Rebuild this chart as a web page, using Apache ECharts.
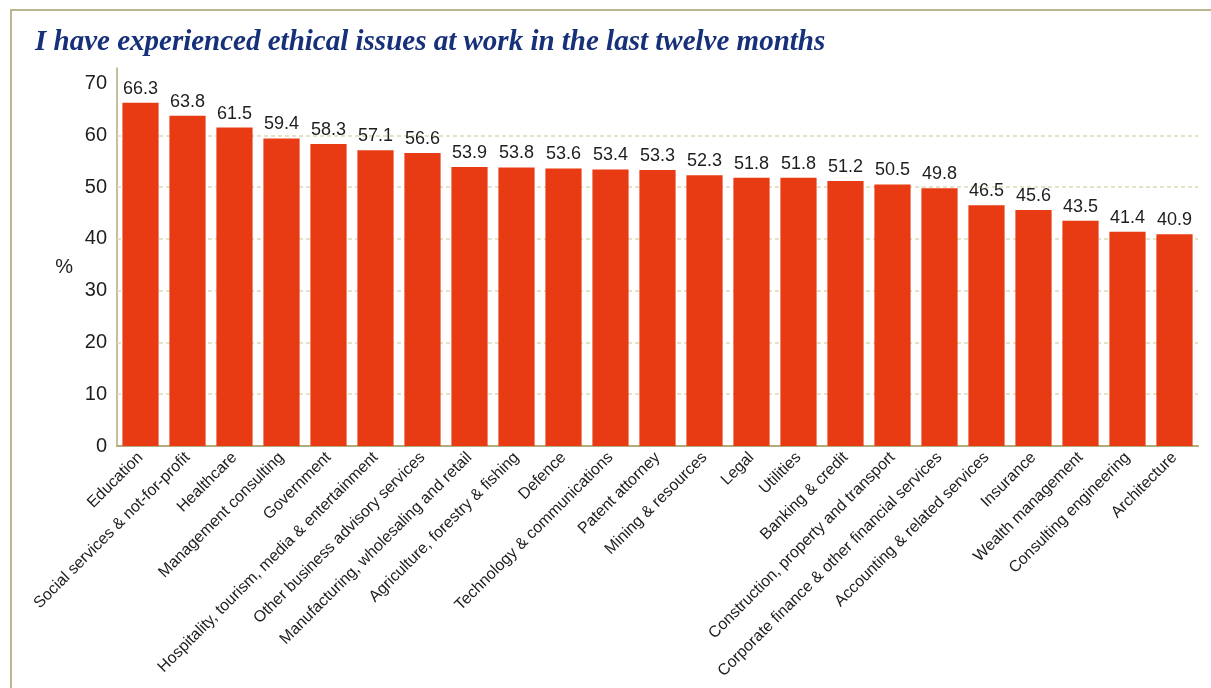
<!DOCTYPE html>
<html>
<head>
<meta charset="utf-8">
<script src="https://cdn.jsdelivr.net/npm/echarts@6/dist/echarts.min.js"></script>
<style>
  html, body { margin: 0; padding: 0; background: #fff; }
  #frame {
    position: absolute; left: 10px; top: 9px; right: 0; bottom: 0;
    border-top: 2px solid #bdb591; border-left: 2px solid #bdb591;
  }
  #chart { position: absolute; left: 0; top: 0; width: 1211px; height: 688px; }
</style>
</head>
<body>
<div id="frame"></div>
<div id="chart"></div>
<script>
  // categories and percentages
  const sectors = [
    "Education", "Social services & not-for-profit", "Healthcare", "Management consulting",
    "Government", "Hospitality, tourism, media & entertainment", "Other business advisory services",
    "Manufacturing, wholesaling and retail", "Agriculture, forestry & fishing", "Defence",
    "Technology & communications", "Patent attorney", "Mining & resources", "Legal", "Utilities",
    "Banking & credit", "Construction, property and transport",
    "Corporate finance & other financial services", "Accounting & related services",
    "Insurance", "Wealth management", "Consulting engineering", "Architecture"
  ];
  const percents = [
    66.3, 63.8, 61.5, 59.4, 58.3, 57.1, 56.6, 53.9, 53.8, 53.6, 53.4, 53.3,
    52.3, 51.8, 51.8, 51.2, 50.5, 49.8, 46.5, 45.6, 43.5, 41.4, 40.9
  ];
  const yTicks = [0, 10, 20, 30, 40, 50, 60, 70];
  // dashed guide lines (none at 0 or 70 in the original)
  const gridValues = [10, 20, 30, 40, 50, 60];

  let myChart = echarts.init(document.getElementById("chart"));
  myChart.setOption({
    animation: false,
    title: {
      text: "I have experienced ethical issues at work in the last twelve months",
      left: 30,
      top: 23,
      textStyle: {
        fontFamily: "Liberation Serif",
        fontStyle: "italic",
        fontWeight: "bold",
        fontSize: 29,
        color: "#16307a"
      }
    },
    grid: { left: 117, right: 13, top: 68, bottom: 242 },
    xAxis: {
      type: "category",
      data: sectors,
      axisLine: { lineStyle: { color: "#b3aa7e", width: 2 } },
      axisTick: { show: false },
      axisLabel: {
        interval: 0,
        rotate: 45,
        margin: 9,
        fontFamily: "Liberation Sans",
        fontSize: 16,
        color: "#1e1e1e"
      }
    },
    yAxis: {
      type: "value",
      min: 0,
      max: 73,
      interval: 10,
      name: "%",
      nameLocation: "middle",
      nameRotate: 0,
      nameGap: 44,
      nameTextStyle: {
        fontFamily: "Liberation Sans",
        fontSize: 20,
        color: "#1e1e1e",
        verticalAlign: "top"
      },
      axisLine: { show: true, lineStyle: { color: "#b3aa7e", width: 1.5 } },
      axisTick: { show: false },
      axisLabel: {
        showMaxLabel: false,
        margin: 10,
        fontFamily: "Liberation Sans",
        fontSize: 20,
        color: "#1e1e1e",
        formatter: v => (yTicks.indexOf(v) >= 0 ? String(v) : "")
      },
      splitLine: { show: false }
    },
    series: [
      {
        type: "bar",
        data: percents,
        barCategoryGap: "23%",
        itemStyle: { color: "#e83a13" },
        label: {
          show: true,
          position: "top",
          distance: 5,
          fontFamily: "Liberation Sans",
          fontSize: 18,
          color: "#1e1e1e",
          formatter: p => p.value.toFixed(1)
        },
        markLine: {
          silent: true,
          symbol: "none",
          z: 1,
          label: { show: false },
          lineStyle: { color: "#dcdab8", type: [4, 3], width: 1.5 },
          data: gridValues.map(v => ({ yAxis: v }))
        }
      }
    ]
  });
</script>
</body>
</html>
